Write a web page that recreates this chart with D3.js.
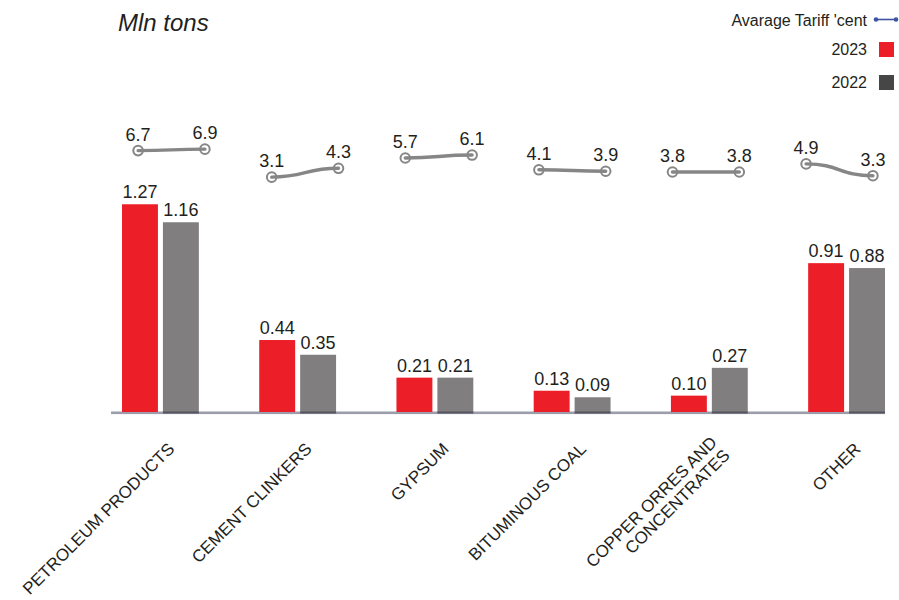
<!DOCTYPE html>
<html>
<head>
<meta charset="utf-8">
<script src="https://cdn.jsdelivr.net/npm/d3@7"></script>
<style>
  body { margin: 0; background: #fff; }
  text { font-family: "Liberation Sans", Arial, Helvetica, sans-serif; fill: #231f20; }
</style>
</head>
<body>
<svg id="chart" width="899" height="600"></svg>
<script>
// Cargo volumes (million tons) and average tariff (cents) per commodity group
const categories = ["PETROLEUM PRODUCTS", "CEMENT CLINKERS", "GYPSUM", "BITUMINOUS COAL", "COPPER ORRES AND\nCONCENTRATES", "OTHER"];
const years = ["2023", "2022"];
const volume2023 = [1.27, 0.44, 0.21, 0.13, 0.10, 0.91];
const volume2022 = [1.16, 0.35, 0.21, 0.09, 0.27, 0.88];
const tariff2023 = [6.7, 3.1, 5.7, 4.1, 3.8, 4.9];
const tariff2022 = [6.9, 4.3, 6.1, 3.9, 3.8, 3.3];
const legendLabels = ["Avarage Tariff 'cent", "2023", "2022"];
const titleText = "Mln tons";

const colors = { "2023": "#ec1f28", "2022": "#807e7f" };
const legendDark = "#464646";
const lineColor = "#868686";
const legendLineColor = "#3d54a3";

const svg = d3.select("#chart");
const baseY = 412;

// Volumes: one group of two bars per category
const x = d3.scaleBand().domain(categories).range([122, 885]).paddingInner(0.44).paddingOuter(0);
const xSub = d3.scaleBand().domain(years).range([0, x.bandwidth()]).paddingInner(0.122);
const y = d3.scaleLinear().domain([0, 1.4]).range([baseY, baseY - 229]);

// Tariff pairs sit on their own band layout above the bars
const xLine = d3.scaleBand().domain(categories).range([104.7, 906.3]);
const xLineSub = d3.scalePoint().domain(years).range([0, xLine.bandwidth()]).padding(0.5);
const yT = d3.scaleLinear().domain([0, 10]).range([200, 126.3]);

const rows = categories.map((c, i) => ({
  cat: c,
  vals: [{ year: "2023", v: volume2023[i] }, { year: "2022", v: volume2022[i] }],
  tariff: [{ year: "2023", v: tariff2023[i] }, { year: "2022", v: tariff2022[i] }]
}));

// Title
svg.append("text")
  .attr("x", 118).attr("y", 31)
  .attr("font-size", 24).attr("font-style", "italic")
  .text(titleText);

// Baseline
svg.append("rect")
  .attr("x", 111).attr("y", baseY - 0.5)
  .attr("width", 885 - 111).attr("height", 2.6)
  .attr("fill", "#9c9dab");

// Bars
const groups = svg.append("g").selectAll("g")
  .data(rows).join("g")
  .attr("transform", d => `translate(${x(d.cat)},0)`);

groups.selectAll("rect.bar")
  .data(d => d.vals).join("rect")
  .attr("class", "bar")
  .attr("x", d => xSub(d.year))
  .attr("y", d => y(d.v))
  .attr("width", xSub.bandwidth())
  .attr("height", d => y(0) - y(d.v))
  .attr("fill", d => colors[d.year]);

// darker foot under the 2022 bars
groups.selectAll("rect.foot")
  .data(d => d.vals.filter(v => v.year === "2022")).join("rect")
  .attr("class", "foot")
  .attr("x", d => xSub(d.year))
  .attr("y", baseY - 0.5)
  .attr("width", xSub.bandwidth())
  .attr("height", 2)
  .attr("fill", "#55555e");

groups.selectAll("text.val")
  .data(d => d.vals).join("text")
  .attr("class", "val")
  .attr("x", d => xSub(d.year) + xSub.bandwidth() / 2)
  .attr("y", d => y(d.v) - 6)
  .attr("text-anchor", "middle")
  .attr("font-size", 18)
  .text(d => d3.format(".2f")(d.v));

// Tariff pairs
const line = d3.line()
  .x(d => d.px)
  .y(d => yT(d.v))
  .curve(d3.curveBumpX);

const tGroups = svg.append("g").selectAll("g")
  .data(rows).join("g");

tGroups.each(function (d) {
  d.tariff.forEach(t => { t.px = xLine(d.cat) + xLineSub(t.year); });
});

tGroups.selectAll("circle")
  .data(d => d.tariff).join("circle")
  .attr("cx", d => d.px)
  .attr("cy", d => yT(d.v))
  .attr("r", 4.8)
  .attr("fill", "#fff")
  .attr("stroke", lineColor)
  .attr("stroke-width", 2);

tGroups.append("path")
  .attr("d", d => line(d.tariff))
  .attr("fill", "none")
  .attr("stroke", lineColor)
  .attr("stroke-width", 3.4)
  .attr("stroke-linecap", "round");

tGroups.selectAll("text")
  .data(d => d.tariff).join("text")
  .attr("x", d => d.px)
  .attr("y", d => yT(d.v) - 10)
  .attr("text-anchor", "middle")
  .attr("font-size", 18)
  .text(d => d3.format(".1f")(d.v));

// Category labels, rotated
const labelG = svg.append("g").selectAll("text")
  .data(categories).join("text")
  .attr("transform", d => `translate(${x(d) + x.bandwidth() / 2 + 15},${baseY + 38}) rotate(-45)`)
  .attr("text-anchor", "end")
  .attr("font-size", 17);

labelG.each(function (d) {
  const lines = d.split("\n");
  const lh = 18;
  const start = -(lines.length - 1) * lh / 2;
  d3.select(this).selectAll("tspan")
    .data(lines).join("tspan")
    .attr("x", 0)
    .attr("y", (l, i) => start + i * lh)
    .text(l => l);
});

// Legend
const legend = svg.append("g");
legend.selectAll("text")
  .data(legendLabels).join("text")
  .attr("x", 867)
  .attr("y", (d, i) => [25.5, 55, 88][i])
  .attr("text-anchor", "end")
  .attr("font-size", 16)
  .text(d => d);

legend.append("line")
  .attr("x1", 876).attr("x2", 896)
  .attr("y1", 19.5).attr("y2", 19.5)
  .attr("stroke", legendLineColor).attr("stroke-width", 1.6);
legend.selectAll("circle")
  .data([876, 896]).join("circle")
  .attr("cx", d => d).attr("cy", 19.5).attr("r", 2.3)
  .attr("fill", legendLineColor);

legend.selectAll("rect")
  .data(years).join("rect")
  .attr("x", 879)
  .attr("y", (d, i) => 42 + i * 33)
  .attr("width", 15).attr("height", 15)
  .attr("fill", d => d === "2023" ? colors["2023"] : legendDark);
</script>
</body>
</html>
